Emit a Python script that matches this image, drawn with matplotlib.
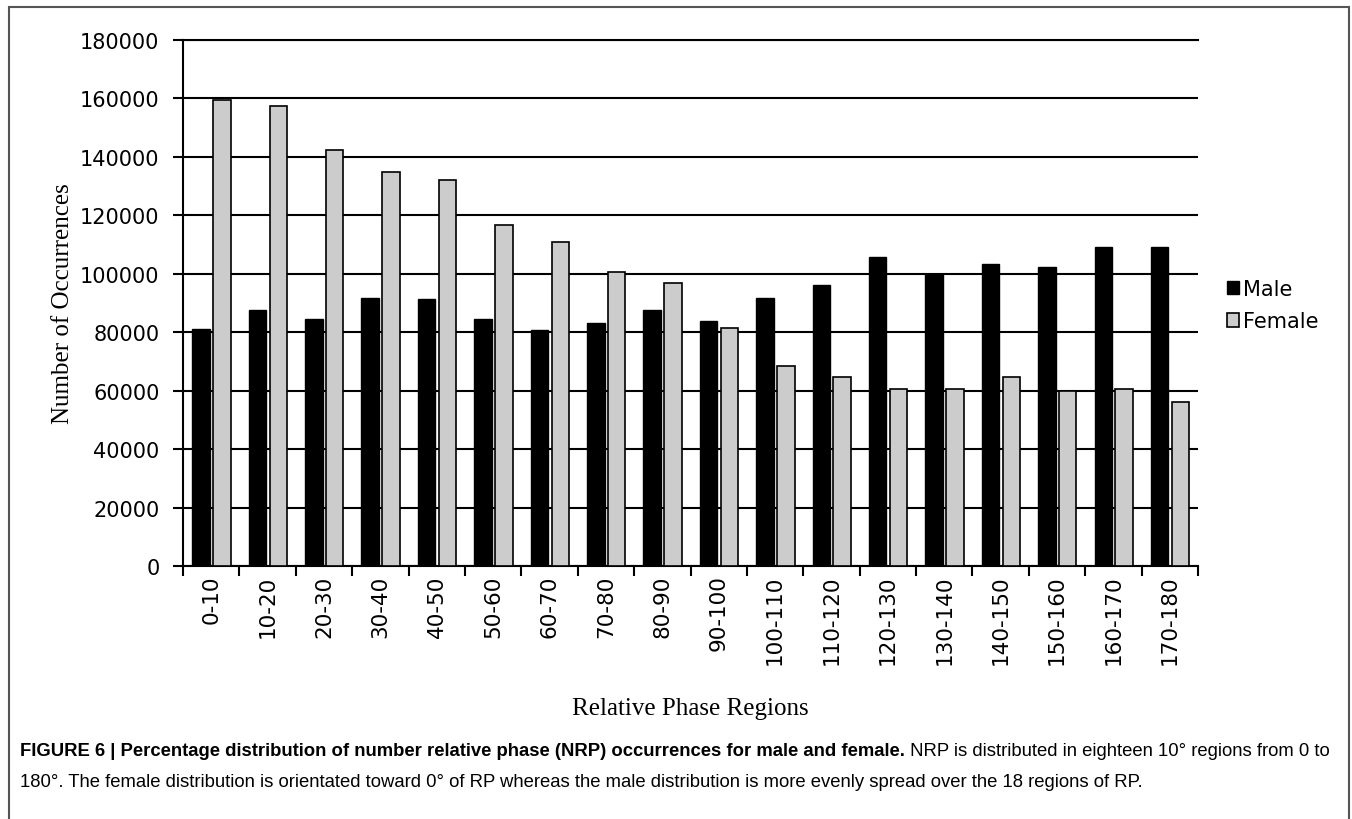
import matplotlib
matplotlib.use('Agg')
import matplotlib.pyplot as plt
from matplotlib.patches import Rectangle
import numpy as np

regions = ['0-10', '10-20', '20-30', '30-40', '40-50', '50-60', '60-70', '70-80', '80-90',
           '90-100', '100-110', '110-120', '120-130', '130-140', '140-150', '150-160',
           '160-170', '170-180']
male = [81200, 87500, 84400, 91800, 91200, 84400, 80600, 83200, 87500,
        83700, 91600, 96000, 105900, 99800, 103500, 102200, 109000, 109000]
female = [159300, 157300, 142500, 135000, 132000, 116600, 111000, 100500, 96900,
          81400, 68500, 64600, 60400, 60400, 64600, 59800, 60400, 56200]
y_ticks = list(range(0, 180001, 20000))

W, H = 1352, 820
fig = plt.figure(figsize=(W / 100, H / 100), dpi=100)
ax = fig.add_axes([183 / W, 1 - 567 / H, (1198 - 183) / W, (567 - 41) / H])

x = np.arange(len(regions))
bw = 0.31
ax.bar(x - 0.18, male, bw, color='black', edgecolor='black', linewidth=1.0, label='Male', zorder=3)
ax.bar(x + 0.19, female, bw, color='#cccccc', edgecolor='black', linewidth=1.2, label='Female', zorder=3)

ax.set_xlim(-0.5, len(regions) - 0.5)
ax.set_ylim(0, 180000)
ax.set_yticks(y_ticks)
ax.set_yticklabels([str(v) for v in y_ticks], fontsize=15, family='DejaVu Sans')
ax.yaxis.grid(True, color='black', linewidth=1.5, zorder=0)
ax.set_axisbelow(True)

ax.set_xticks(x)
ax.set_xticklabels(regions, rotation=90, fontsize=15.5, family='DejaVu Sans')
ax.set_xticks(np.arange(-0.5, len(regions)), minor=True)
ax.tick_params(axis='x', which='major', length=0, pad=6)
ax.tick_params(axis='x', which='minor', length=7, width=1.5, direction='out')
ax.tick_params(axis='y', length=7, width=1.5, direction='out', pad=10)

ax.spines['right'].set_visible(False)
for s in ['top', 'left', 'bottom']:
    ax.spines[s].set_linewidth(1.5)

ax.set_ylabel('Number of Occurrences', family='Liberation Serif', fontsize=18, labelpad=4)
ax.set_xlabel('Relative Phase Regions', family='Liberation Serif', fontsize=18, labelpad=24)

fig.legend(loc='upper left', bbox_to_anchor=(1208 / W, 1 - 261 / H), frameon=False,
           handlelength=0.6, handleheight=0.6, handletextpad=0.2,
           labelspacing=0.6, prop={'family': 'DejaVu Sans', 'size': 15})

# outer frame
fig.patches.append(Rectangle((9 / W, -0.01), (1349 - 9) / W, 1 - 8 / H + 0.01,
                             transform=fig.transFigure, fill=False,
                             edgecolor='#555555', linewidth=1.5))

# caption
bold_txt = 'FIGURE 6 | Percentage distribution of number relative phase (NRP) occurrences for male and female.'
rest_txt = ' NRP is distributed in eighteen 10\u00b0 regions from 0 to'
line2 = ('180\u00b0. The female distribution is orientated toward 0\u00b0 of RP whereas the male '
         'distribution is more evenly spread over the 18 regions of RP.')
cap_font = ['Liberation Sans Narrow', 'Liberation Sans']
renderer = fig.canvas.get_renderer()

fs = 13
x0 = 20 / W
t1 = fig.text(x0, 1 - 752 / H, bold_txt, fontsize=fs, fontweight='bold', family=cap_font, va='center')
t2 = fig.text(0, 1 - 752 / H, rest_txt, fontsize=fs, family=cap_font, va='center')
w_total = t1.get_window_extent(renderer).width + t2.get_window_extent(renderer).width
fs = fs * (1333 - 20) / w_total
t1.set_fontsize(fs)
t2.set_fontsize(fs)
bb = t1.get_window_extent(renderer)
t2.set_x(bb.x1 / W)
fig.text(x0, 1 - 783 / H, line2, fontsize=fs, family=cap_font, va='center')

fig.savefig('out.png', dpi=100)
